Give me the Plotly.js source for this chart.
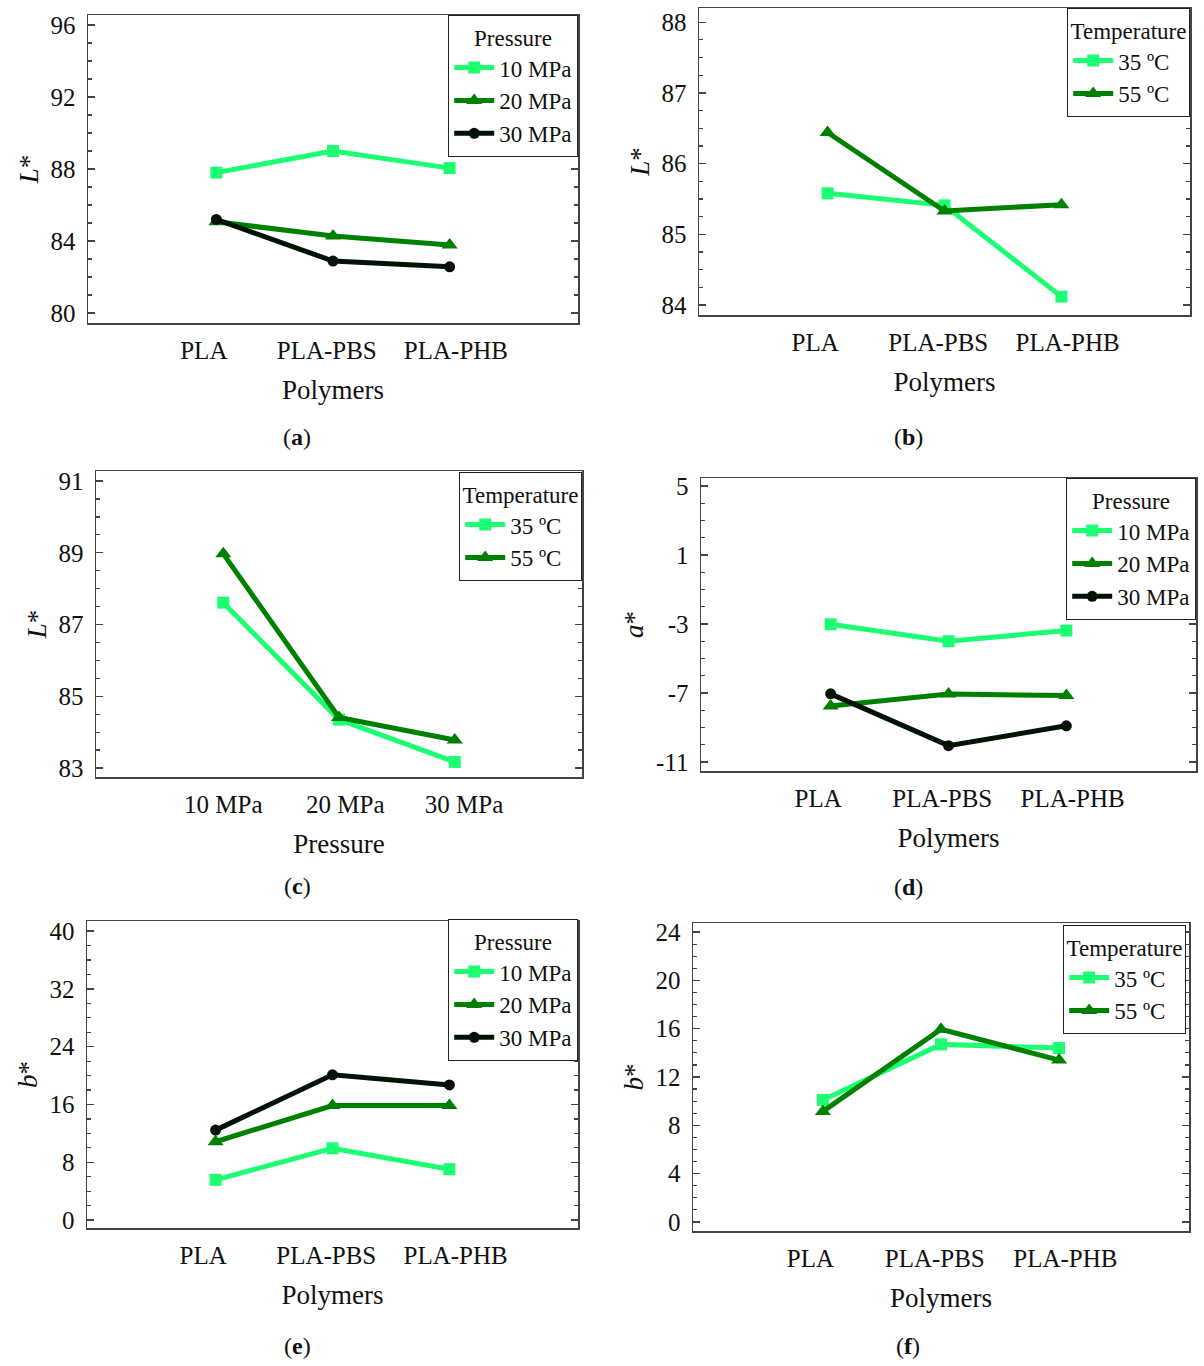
<!DOCTYPE html>
<html>
<head>
<meta charset="utf-8">
<script src="https://cdn.plot.ly/plotly-3.0.1.min.js"></script>
<style>html,body{margin:0;padding:0;background:#fff;}#chart{width:1204px;height:1366px;}</style>
</head>
<body>
<div id="chart"></div>
<script>
// ---- data ----
const polymers = ["PLA", "PLA-PBS", "PLA-PHB"];
const pressures = ["10 MPa", "20 MPa", "30 MPa"];
const pressureNames = ["10 MPa", "20 MPa", "30 MPa"];
const temperatureNames = ["35 ºC", "55 ºC"];

// (a) L* vs polymers, by pressure
const aL_10 = [87.8, 89.0, 88.05];
const aL_20 = [85.07, 84.28, 83.78];
const aL_30 = [85.2, 82.89, 82.57];
// (b) L* vs polymers, by temperature
const bL_35 = [85.58, 85.41, 84.12];
const bL_55 = [86.44, 85.33, 85.42];
// (c) L* vs pressure, by temperature
const cL_35 = [87.61, 84.35, 83.17];
const cL_55 = [88.97, 84.41, 83.78];
// (d) a* vs polymers, by pressure
const dA_10 = [-3.02, -4.0, -3.38];
const dA_20 = [-7.75, -7.06, -7.15];
const dA_30 = [-7.05, -10.05, -8.9];
// (e) b* vs polymers, by pressure
const eB_10 = [5.57, 9.93, 7.04];
const eB_20 = [10.84, 15.86, 15.86];
const eB_30 = [12.45, 20.1, 18.7];
// (f) b* vs polymers, by temperature
const fB_35 = [10.1, 14.7, 14.4];
const fB_55 = [9.15, 15.95, 13.4];

// y tick labels per panel
const aTicks = [80, 84, 88, 92, 96];
const bTicks = [84, 85, 86, 87, 88];
const cTicks = [83, 85, 87, 89, 91];
const dTicks = [-11, -7, -3, 1, 5];
const dTickText = ["-11", "-7", "-3", "1", "5"];
const eTicks = [0, 8, 16, 24, 32, 40];
const fTicks = [0, 4, 8, 12, 16, 20, 24];

// ---- styles ----
const FONT = 'Liberation Serif';
const LIGHT = '#1CFF72';
const DARK = '#008000';
const BLACK = '#021205';
const seriesStyle = [
  {color: LIGHT, symbol: 'square', size: 12},
  {color: DARK, symbol: 'triangle-up', size: 14},
  {color: BLACK, symbol: 'circle', size: 11}
];
const NB = '\u00a0';
function padR(s, n) { return s + NB.repeat(n); }
function padL(s, n) { return NB.repeat(n) + s; }
// tick-label text (shifted slightly like the original figure)
const polymerTickText = [padR(polymers[0], 4), padR(polymers[1], 2), padL(polymers[2], 2)];
const pressureTickText = [pressures[0], padL(pressures[1], 2), padL(pressures[2], 3)];

const W = 1204, H = 1366;
function px(x) { return x / W; }
function py(y) { return 1 - y / H; }

const traces = [];
function addSeries(n, xs, ys, names, legendId) {
  ys.forEach((y, i) => {
    const s = seriesStyle[i];
    traces.push({
      type: 'scatter', mode: 'lines+markers',
      x: xs, y: y, name: names[i],
      xaxis: 'x' + (n === 1 ? '' : n), yaxis: 'y' + (n === 1 ? '' : n),
      legend: legendId,
      line: {color: s.color, width: 5},
      marker: {color: s.color, symbol: s.symbol, size: s.size},
      cliponaxis: false
    });
  });
}
addSeries(1, polymers, [aL_10, aL_20, aL_30], pressureNames, 'legend');
addSeries(2, polymers, [bL_35, bL_55], temperatureNames, 'legend2');
addSeries(3, pressures, [cL_35, cL_55], temperatureNames, 'legend3');
addSeries(4, polymers, [dA_10, dA_20, dA_30], pressureNames, 'legend4');
addSeries(5, polymers, [eB_10, eB_20, eB_30], pressureNames, 'legend5');
addSeries(6, polymers, [fB_35, fB_55], temperatureNames, 'legend6');

// panel boxes in pixels: [left, right, top, bottom]
const boxes = [
  [88, 578, 15, 323],
  [699, 1190, 8, 315],
  [96, 582, 471, 777],
  [701, 1196, 478, 771],
  [87, 578, 921, 1228],
  [693, 1189, 923, 1231]
];
const xCats = [polymers, polymers, pressures, polymers, polymers, polymers];
const xTickText = [polymerTickText, polymerTickText, pressureTickText, polymerTickText, polymerTickText, polymerTickText];
const yRanges = [[79.45, 96.55], [83.86, 88.2], [82.75, 91.28], [-11.52, 5.46], [-1.1, 41.4], [-0.75, 24.75]];
const yTickVals = [aTicks, bTicks, cTicks, dTicks, eTicks, fTicks];
const yTickText = [aTicks.map(String), bTicks.map(String), cTicks.map(String), dTickText, eTicks.map(String), fTicks.map(String)];
const yMinor = [1, 0.25, 0.5, 1, 2, 1];
const yTitles = ['<i>L</i>*', '<i>L</i>*', '<i>L</i>*', '<i>a</i>*', '<i>b</i>*', '<i>b</i>*'];
const xTitles = ['Polymers', 'Polymers', 'Pressure', 'Polymers', 'Polymers', 'Polymers'];
const legendTitles = ['Pressure', 'Temperature', 'Temperature', 'Pressure', 'Pressure', 'Temperature'];
const legendPos = [[578, 15], [1190, 8], [582, 472], [1196, 478], [578, 919], [1186, 925]];
const captions = ['a', 'b', 'c', 'd', 'e', 'f'];
const captionPos = [[297, 437], [908, 437], [297, 886], [908, 887], [297, 1346], [908, 1346]];

const layout = {
  width: W, height: H,
  margin: {l: 0, r: 0, t: 0, b: 0},
  paper_bgcolor: '#fff', plot_bgcolor: '#fff',
  font: {family: FONT, color: '#111', size: 24},
  showlegend: true,
  annotations: []
};

boxes.forEach((b, i) => {
  const n = i + 1;
  const xk = 'xaxis' + (n === 1 ? '' : n);
  const yk = 'yaxis' + (n === 1 ? '' : n);
  layout[xk] = {
    domain: [px(b[0]), px(b[1])],
    anchor: 'y' + (n === 1 ? '' : n),
    type: 'category',
    range: [-1.1, 3.1],
    tickmode: 'array', tickvals: xCats[i], ticktext: xTickText[i],
    tickangle: 0,
    showline: true, linecolor: '#444', linewidth: 1.5, mirror: true,
    ticks: '', showgrid: false, zeroline: false,
    tickfont: {family: FONT, size: 25, color: '#111'},
    ticklabelstandoff: 4,
    title: {text: xTitles[i], font: {family: FONT, size: 27, color: '#111'}, standoff: 17},
    fixedrange: true
  };
  const t0 = yTickVals[i][0];
  layout[yk] = {
    domain: [py(b[3]), py(b[2])],
    anchor: 'x' + (n === 1 ? '' : n),
    range: yRanges[i],
    tickmode: 'array', tickvals: yTickVals[i], ticktext: yTickText[i],
    showline: true, linecolor: '#444', linewidth: 1.5, mirror: 'ticks',
    ticks: 'inside', ticklen: 7, tickwidth: 1.3, tickcolor: '#444',
    minor: {tick0: t0, dtick: yMinor[i], ticks: 'inside', ticklen: 4, tickwidth: 1.2, tickcolor: '#444'},
    showgrid: false, zeroline: false,
    tickfont: {family: FONT, size: 25, color: '#111'},
    ticklabelstandoff: 6,
    title: {text: yTitles[i], font: {family: FONT, size: 27, color: '#111'}, standoff: 4},
    fixedrange: true
  };
  const lk = 'legend' + (n === 1 ? '' : n);
  layout[lk] = {
    x: px(legendPos[i][0]), y: py(legendPos[i][1]),
    xanchor: 'right', yanchor: 'top',
    bgcolor: '#fff', bordercolor: '#222', borderwidth: 1.2,
    font: {family: FONT, size: 23, color: '#111'},
    title: {text: legendTitles[i], side: 'top center', font: {family: FONT, size: 23, color: '#111'}},
    itemwidth: 40,
    tracegroupgap: 0
  };
  layout.annotations.push({
    xref: 'paper', yref: 'paper',
    x: px(captionPos[i][0]), y: py(captionPos[i][1]),
    xanchor: 'center', yanchor: 'middle', showarrow: false,
    text: '(<b>' + captions[i] + '</b>)',
    font: {family: FONT, size: 24, color: '#111'}
  });
});

Plotly.newPlot('chart', traces, layout, {staticPlot: true, displayModeBar: false});
</script>
</body>
</html>
